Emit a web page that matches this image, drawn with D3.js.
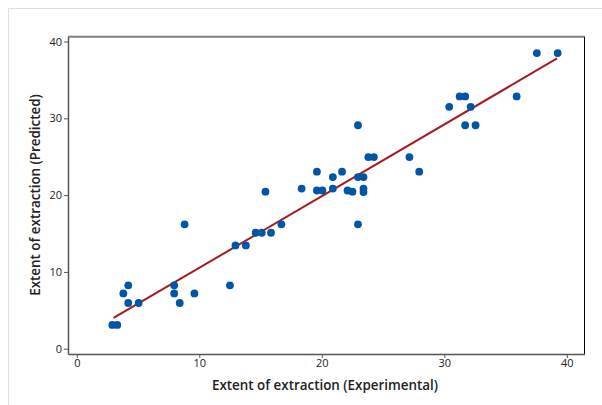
<!DOCTYPE html>
<html>
<head>
<meta charset="utf-8">
<script src="https://cdn.jsdelivr.net/npm/d3@7"></script>
<style>
  body { margin: 0; background: #fff; }
  .tick text { font-family: "Open Sans", sans-serif; font-size: 11px; fill: #222; }
  .title { font-family: "Open Sans", sans-serif; font-size: 13.4px; font-weight: 600; fill: #222; }
</style>
</head>
<body>
<div id="main"></div>
<script>
const W = 602, H = 405;

// measured values (experimental vs predicted)
const experimental = [2.9, 3.3, 3.8, 4.2, 4.2, 5.05, 7.95, 7.95, 8.4, 9.6, 8.8, 12.5,
  12.95, 13.8, 14.6, 15.1, 15.85, 15.4, 16.7, 18.35, 19.6, 19.6, 20.05, 20.9, 20.9,
  21.65, 22.1, 22.5, 22.95, 22.95, 23.4, 23.4, 23.4, 22.95, 23.8, 24.25, 27.15, 27.95,
  30.4, 31.25, 31.7, 31.7, 32.15, 32.55, 35.9, 37.55, 39.25];
const predicted = [3.1, 3.1, 7.2, 8.25, 5.95, 5.95, 8.25, 7.2, 5.95, 7.2, 16.2, 8.25,
  13.45, 13.45, 15.1, 15.1, 15.1, 20.45, 16.2, 20.85, 23.05, 20.6, 20.6, 22.35, 20.85,
  23.05, 20.6, 20.45, 29.1, 22.35, 22.35, 20.85, 20.4, 16.2, 24.95, 24.95, 24.95, 23.05,
  31.5, 32.85, 32.85, 29.1, 31.5, 29.1, 32.85, 38.5, 38.5];

// fitted line end points
const fitX = [3.0, 39.2];
const fitY = [4.0, 37.8];

const xTicks = [0, 10, 20, 30, 40];
const yTicks = [0, 10, 20, 30, 40];

const frame = { left: 68, right: 584.5, top: 36.7, bottom: 354 };

function createViz() {
  const svg = d3.select("#main").append("svg")
    .attr("width", W).attr("height", H);

  // outer light border
  svg.append("path")
    .attr("d", `M8.5,${H} L8.5,8.5 L${W},8.5`)
    .attr("fill", "none").attr("stroke", "#e0e0e0").attr("stroke-width", 1);

  const x = d3.scaleLinear().domain([-0.718, 41.44]).range([frame.left, frame.right]);
  const y = d3.scaleLinear().domain([-0.69, 40.63]).range([frame.bottom, frame.top]);

  // top and right frame
  svg.append("line")
    .attr("x1", frame.left).attr("x2", frame.right)
    .attr("y1", frame.top).attr("y2", frame.top)
    .attr("stroke", "#808080").attr("stroke-width", 2);
  svg.append("line")
    .attr("x1", frame.right).attr("x2", frame.right)
    .attr("y1", frame.top).attr("y2", frame.bottom)
    .attr("stroke", "#000").attr("stroke-width", 1);

  const xAxis = svg.append("g")
    .attr("transform", `translate(0,${frame.bottom})`)
    .call(d3.axisBottom(x).tickValues(xTicks).tickSizeInner(4).tickSizeOuter(0).tickPadding(1));
  const yAxis = svg.append("g")
    .attr("transform", `translate(${frame.left},0)`)
    .call(d3.axisLeft(y).tickValues(yTicks).tickSizeInner(4).tickSizeOuter(0).tickPadding(2));
  xAxis.select(".domain").attr("stroke", "#555").attr("stroke-width", 1.5);
  yAxis.select(".domain").attr("stroke", "#555").attr("stroke-width", 1.5);
  svg.selectAll(".tick line").attr("stroke", "#555");

  // fitted line
  svg.append("line")
    .attr("x1", x(fitX[0])).attr("y1", y(fitY[0]))
    .attr("x2", x(fitX[1])).attr("y2", y(fitY[1]))
    .attr("stroke", "#a31b1f").attr("stroke-width", 2);

  svg.append("g").selectAll("circle")
    .data(experimental.map((e, i) => [e, predicted[i]]))
    .enter()
    .append("circle")
    .attr("cx", d => x(d[0]))
    .attr("cy", d => y(d[1]))
    .attr("r", 3.9)
    .attr("fill", "#0055a6");

  svg.append("text").attr("class", "title")
    .attr("x", 325).attr("y", 390)
    .attr("text-anchor", "middle")
    .text("Extent of extraction (Experimental)");
  svg.append("text").attr("class", "title")
    .attr("transform", "translate(39.5,195) rotate(-90)")
    .attr("text-anchor", "middle")
    .text("Extent of extraction (Predicted)");
}

createViz();
</script>
</body>
</html>
